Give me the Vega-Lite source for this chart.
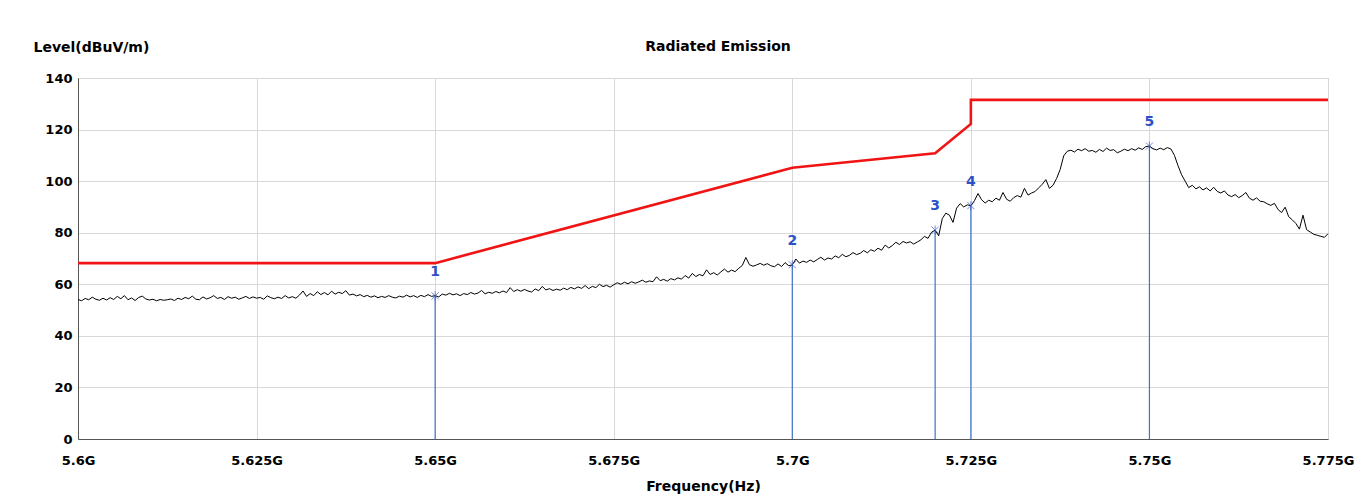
{
  "$schema": "https://vega.github.io/schema/vega-lite/v6.json",
  "width": 1250,
  "height": 361,
  "autosize": "none",
  "padding": {"left": 78, "top": 78, "right": 39, "bottom": 62},
  "background": "#ffffff",
  "title": {"text": "Radiated Emission", "font": "DejaVu Sans", "fontSize": 14, "fontWeight": "bold", "color": "#000000", "offset": -14, "dx": 15},
  "config": {
    "view": {"stroke": "#9a9a9a", "strokeWidth": 1},
    "axis": {"labelFont": "DejaVu Sans", "labelFontSize": 13, "labelFontWeight": "bold", "labelColor": "#000000", "titleFont": "DejaVu Sans", "titleFontSize": 14, "titleFontWeight": "bold", "titleColor": "#000000", "gridColor": "#d8d8d8", "gridWidth": 1, "domainColor": "#555555", "ticks": false}
  },
  "datasets": {
    "trace": [
{"f":5.6000,"v":54.1},{"f":5.6005,"v":53.6},{"f":5.6010,"v":54.5},{"f":5.6015,"v":54.0},{"f":5.6020,"v":55.0},{"f":5.6025,"v":54.2},{"f":5.6030,"v":53.8},{"f":5.6035,"v":54.6},{"f":5.6040,"v":53.9},{"f":5.6045,"v":54.8},
{"f":5.6050,"v":54.1},{"f":5.6055,"v":55.3},{"f":5.6060,"v":54.4},{"f":5.6065,"v":55.6},{"f":5.6070,"v":54.0},{"f":5.6075,"v":54.7},{"f":5.6080,"v":53.7},{"f":5.6085,"v":54.9},{"f":5.6090,"v":55.4},{"f":5.6095,"v":54.3},
{"f":5.6100,"v":53.9},{"f":5.6105,"v":54.2},{"f":5.6110,"v":53.6},{"f":5.6115,"v":54.1},{"f":5.6120,"v":53.8},{"f":5.6125,"v":54.0},{"f":5.6130,"v":54.3},{"f":5.6135,"v":53.7},{"f":5.6140,"v":54.6},{"f":5.6145,"v":54.1},
{"f":5.6150,"v":54.9},{"f":5.6155,"v":54.4},{"f":5.6160,"v":55.4},{"f":5.6165,"v":54.2},{"f":5.6170,"v":54.0},{"f":5.6175,"v":55.1},{"f":5.6180,"v":54.3},{"f":5.6185,"v":54.8},{"f":5.6190,"v":55.6},{"f":5.6195,"v":54.5},
{"f":5.6200,"v":54.9},{"f":5.6205,"v":54.1},{"f":5.6210,"v":55.2},{"f":5.6215,"v":54.6},{"f":5.6220,"v":55.0},{"f":5.6225,"v":54.2},{"f":5.6230,"v":54.7},{"f":5.6235,"v":55.3},{"f":5.6240,"v":54.5},{"f":5.6245,"v":55.1},
{"f":5.6250,"v":54.6},{"f":5.6255,"v":54.9},{"f":5.6260,"v":54.2},{"f":5.6265,"v":55.5},{"f":5.6270,"v":54.8},{"f":5.6275,"v":54.4},{"f":5.6280,"v":55.0},{"f":5.6285,"v":54.5},{"f":5.6290,"v":55.6},{"f":5.6295,"v":54.7},
{"f":5.6300,"v":55.2},{"f":5.6305,"v":54.6},{"f":5.6310,"v":55.8},{"f":5.6315,"v":57.4},{"f":5.6320,"v":55.3},{"f":5.6325,"v":56.4},{"f":5.6330,"v":55.6},{"f":5.6335,"v":57.1},{"f":5.6340,"v":56.0},{"f":5.6345,"v":56.8},
{"f":5.6350,"v":55.9},{"f":5.6355,"v":57.3},{"f":5.6360,"v":56.2},{"f":5.6365,"v":56.9},{"f":5.6370,"v":56.4},{"f":5.6375,"v":57.5},{"f":5.6380,"v":55.8},{"f":5.6385,"v":56.2},{"f":5.6390,"v":55.5},{"f":5.6395,"v":56.0},
{"f":5.6400,"v":55.2},{"f":5.6405,"v":55.7},{"f":5.6410,"v":55.0},{"f":5.6415,"v":55.5},{"f":5.6420,"v":54.8},{"f":5.6425,"v":55.3},{"f":5.6430,"v":54.9},{"f":5.6435,"v":55.6},{"f":5.6440,"v":55.0},{"f":5.6445,"v":54.7},
{"f":5.6450,"v":55.4},{"f":5.6455,"v":55.0},{"f":5.6460,"v":55.8},{"f":5.6465,"v":55.1},{"f":5.6470,"v":55.6},{"f":5.6475,"v":54.9},{"f":5.6480,"v":55.7},{"f":5.6485,"v":55.2},{"f":5.6490,"v":56.0},{"f":5.6495,"v":55.3},
{"f":5.6500,"v":55.6},{"f":5.6505,"v":55.1},{"f":5.6510,"v":56.2},{"f":5.6515,"v":55.8},{"f":5.6520,"v":56.5},{"f":5.6525,"v":55.9},{"f":5.6530,"v":56.3},{"f":5.6535,"v":55.6},{"f":5.6540,"v":56.4},{"f":5.6545,"v":56.0},
{"f":5.6550,"v":56.8},{"f":5.6555,"v":56.2},{"f":5.6560,"v":56.6},{"f":5.6565,"v":57.6},{"f":5.6570,"v":56.3},{"f":5.6575,"v":56.9},{"f":5.6580,"v":56.5},{"f":5.6585,"v":57.2},{"f":5.6590,"v":56.7},{"f":5.6595,"v":57.4},
{"f":5.6600,"v":56.8},{"f":5.6605,"v":58.7},{"f":5.6610,"v":57.2},{"f":5.6615,"v":57.9},{"f":5.6620,"v":57.3},{"f":5.6625,"v":58.0},{"f":5.6630,"v":57.4},{"f":5.6635,"v":57.0},{"f":5.6640,"v":58.2},{"f":5.6645,"v":57.5},
{"f":5.6650,"v":59.2},{"f":5.6655,"v":57.8},{"f":5.6660,"v":58.3},{"f":5.6665,"v":57.6},{"f":5.6670,"v":58.1},{"f":5.6675,"v":57.7},{"f":5.6680,"v":58.5},{"f":5.6685,"v":57.9},{"f":5.6690,"v":58.8},{"f":5.6695,"v":58.2},
{"f":5.6700,"v":59.0},{"f":5.6705,"v":58.4},{"f":5.6710,"v":59.5},{"f":5.6715,"v":58.3},{"f":5.6720,"v":59.2},{"f":5.6725,"v":58.7},{"f":5.6730,"v":60.0},{"f":5.6735,"v":59.1},{"f":5.6740,"v":59.6},{"f":5.6745,"v":58.9},
{"f":5.6750,"v":59.8},{"f":5.6755,"v":60.6},{"f":5.6760,"v":60.0},{"f":5.6765,"v":60.8},{"f":5.6770,"v":60.2},{"f":5.6775,"v":61.0},{"f":5.6780,"v":60.4},{"f":5.6785,"v":60.9},{"f":5.6790,"v":61.6},{"f":5.6795,"v":60.8},
{"f":5.6800,"v":61.3},{"f":5.6805,"v":61.0},{"f":5.6810,"v":62.9},{"f":5.6815,"v":61.4},{"f":5.6820,"v":61.9},{"f":5.6825,"v":61.2},{"f":5.6830,"v":62.2},{"f":5.6835,"v":61.7},{"f":5.6840,"v":62.5},{"f":5.6845,"v":62.0},
{"f":5.6850,"v":63.4},{"f":5.6855,"v":62.4},{"f":5.6860,"v":64.2},{"f":5.6865,"v":63.0},{"f":5.6870,"v":63.8},{"f":5.6875,"v":63.3},{"f":5.6880,"v":65.6},{"f":5.6885,"v":63.8},{"f":5.6890,"v":64.5},{"f":5.6895,"v":63.6},
{"f":5.6900,"v":64.8},{"f":5.6905,"v":65.9},{"f":5.6910,"v":64.7},{"f":5.6915,"v":65.5},{"f":5.6920,"v":64.9},{"f":5.6925,"v":66.2},{"f":5.6930,"v":67.3},{"f":5.6935,"v":70.4},{"f":5.6940,"v":67.6},{"f":5.6945,"v":67.0},
{"f":5.6950,"v":67.5},{"f":5.6955,"v":68.1},{"f":5.6960,"v":67.4},{"f":5.6965,"v":68.0},{"f":5.6970,"v":67.2},{"f":5.6975,"v":66.8},{"f":5.6980,"v":67.9},{"f":5.6985,"v":66.9},{"f":5.6990,"v":68.4},{"f":5.6995,"v":67.2},
{"f":5.7000,"v":67.5},{"f":5.7005,"v":69.8},{"f":5.7010,"v":68.2},{"f":5.7015,"v":69.0},{"f":5.7020,"v":68.5},{"f":5.7025,"v":69.4},{"f":5.7030,"v":68.7},{"f":5.7035,"v":69.6},{"f":5.7040,"v":70.5},{"f":5.7045,"v":69.4},
{"f":5.7050,"v":70.2},{"f":5.7055,"v":69.8},{"f":5.7060,"v":71.0},{"f":5.7065,"v":70.3},{"f":5.7070,"v":71.6},{"f":5.7075,"v":70.7},{"f":5.7080,"v":71.2},{"f":5.7085,"v":72.3},{"f":5.7090,"v":71.5},{"f":5.7095,"v":72.0},
{"f":5.7100,"v":73.1},{"f":5.7105,"v":72.2},{"f":5.7110,"v":73.4},{"f":5.7115,"v":72.8},{"f":5.7120,"v":74.0},{"f":5.7125,"v":73.2},{"f":5.7130,"v":75.2},{"f":5.7135,"v":74.1},{"f":5.7140,"v":75.0},{"f":5.7145,"v":76.3},
{"f":5.7150,"v":75.4},{"f":5.7155,"v":76.6},{"f":5.7160,"v":76.0},{"f":5.7165,"v":76.5},{"f":5.7170,"v":75.6},{"f":5.7175,"v":76.4},{"f":5.7180,"v":77.2},{"f":5.7185,"v":78.6},{"f":5.7190,"v":77.8},{"f":5.7195,"v":80.2},
{"f":5.7200,"v":81.0},{"f":5.7205,"v":78.8},{"f":5.7210,"v":85.5},{"f":5.7215,"v":87.6},{"f":5.7220,"v":86.8},{"f":5.7225,"v":84.0},{"f":5.7230,"v":89.5},{"f":5.7235,"v":91.3},{"f":5.7240,"v":90.0},{"f":5.7245,"v":90.8},
{"f":5.7250,"v":90.5},{"f":5.7255,"v":92.4},{"f":5.7260,"v":95.2},{"f":5.7265,"v":92.8},{"f":5.7270,"v":91.5},{"f":5.7275,"v":92.6},{"f":5.7280,"v":92.0},{"f":5.7285,"v":93.4},{"f":5.7290,"v":92.6},{"f":5.7295,"v":95.6},
{"f":5.7300,"v":93.0},{"f":5.7305,"v":92.2},{"f":5.7310,"v":93.6},{"f":5.7315,"v":94.4},{"f":5.7320,"v":93.8},{"f":5.7325,"v":97.2},{"f":5.7330,"v":94.6},{"f":5.7335,"v":95.4},{"f":5.7340,"v":96.0},{"f":5.7345,"v":97.4},
{"f":5.7350,"v":98.8},{"f":5.7355,"v":100.6},{"f":5.7360,"v":97.2},{"f":5.7365,"v":98.4},{"f":5.7370,"v":101.0},{"f":5.7375,"v":104.5},{"f":5.7380,"v":109.8},{"f":5.7385,"v":111.6},{"f":5.7390,"v":112.0},{"f":5.7395,"v":111.3},
{"f":5.7400,"v":112.4},{"f":5.7405,"v":111.8},{"f":5.7410,"v":112.6},{"f":5.7415,"v":111.6},{"f":5.7420,"v":111.9},{"f":5.7425,"v":111.2},{"f":5.7430,"v":112.3},{"f":5.7435,"v":111.5},{"f":5.7440,"v":112.8},{"f":5.7445,"v":111.9},
{"f":5.7450,"v":112.2},{"f":5.7455,"v":111.0},{"f":5.7460,"v":111.6},{"f":5.7465,"v":112.4},{"f":5.7470,"v":111.8},{"f":5.7475,"v":112.6},{"f":5.7480,"v":112.0},{"f":5.7485,"v":112.9},{"f":5.7490,"v":112.3},{"f":5.7495,"v":113.4},
{"f":5.7500,"v":113.6},{"f":5.7505,"v":112.6},{"f":5.7510,"v":112.1},{"f":5.7515,"v":112.8},{"f":5.7520,"v":112.2},{"f":5.7525,"v":113.0},{"f":5.7530,"v":112.5},{"f":5.7535,"v":110.0},{"f":5.7540,"v":106.0},{"f":5.7545,"v":102.5},
{"f":5.7550,"v":100.0},{"f":5.7555,"v":97.5},{"f":5.7560,"v":98.4},{"f":5.7565,"v":97.0},{"f":5.7570,"v":97.8},{"f":5.7575,"v":96.6},{"f":5.7580,"v":97.4},{"f":5.7585,"v":96.2},{"f":5.7590,"v":97.6},{"f":5.7595,"v":96.0},
{"f":5.7600,"v":95.4},{"f":5.7605,"v":96.2},{"f":5.7610,"v":94.6},{"f":5.7615,"v":94.0},{"f":5.7620,"v":94.8},{"f":5.7625,"v":93.6},{"f":5.7630,"v":94.4},{"f":5.7635,"v":95.6},{"f":5.7640,"v":93.4},{"f":5.7645,"v":92.6},
{"f":5.7650,"v":93.5},{"f":5.7655,"v":92.2},{"f":5.7660,"v":92.0},{"f":5.7665,"v":91.2},{"f":5.7670,"v":90.6},{"f":5.7675,"v":91.4},{"f":5.7680,"v":89.0},{"f":5.7685,"v":87.8},{"f":5.7690,"v":89.9},{"f":5.7695,"v":86.2},
{"f":5.7700,"v":85.0},{"f":5.7705,"v":83.6},{"f":5.7710,"v":81.4},{"f":5.7715,"v":86.8},{"f":5.7720,"v":81.2},{"f":5.7725,"v":80.3},{"f":5.7730,"v":79.4},{"f":5.7735,"v":79.0},{"f":5.7740,"v":78.6},{"f":5.7745,"v":78.2},
{"f":5.7750,"v":79.6}
    ],
    "limit": [
      {"o":1,"f":5.6,"v":68.2},{"o":2,"f":5.65,"v":68.2},{"o":3,"f":5.7,"v":105.2},{"o":4,"f":5.72,"v":110.8},{"o":5,"f":5.725,"v":122.2},{"o":6,"f":5.725,"v":131.5},{"o":7,"f":5.775,"v":131.5}
    ],
    "markers": [
      {"m":"1","f":5.65,"v":55.5},{"m":"2","f":5.7,"v":67.6},{"m":"3","f":5.72,"v":81.0},{"m":"4","f":5.725,"v":90.5},{"m":"5","f":5.75,"v":113.6}
    ]
  },
  "encoding": {
    "x": {"field": "f", "type": "quantitative", "scale": {"domain": [5.6, 5.775], "nice": false, "zero": false},
      "axis": {"values": [5.6, 5.625, 5.65, 5.675, 5.7, 5.725, 5.75, 5.775], "labelExpr": "format(datum.value, '.4~f') + 'G'", "title": "Frequency(Hz)", "labelPadding": 15, "titlePadding": 12, "labelFlush": false}},
    "y": {"field": "v", "type": "quantitative", "scale": {"domain": [0, 140], "nice": false},
      "axis": {"values": [0, 20, 40, 60, 80, 100, 120, 140], "title": "Level(dBuV/m)", "titleAngle": 0, "titleAlign": "left", "titleBaseline": "middle", "titleX": -45, "titleY": -31, "labelPadding": 6}}
  },
  "layer": [
    {"data": {"name": "markers"}, "mark": {"type": "rule", "color": "#3c74c8", "strokeWidth": 1.2}, "encoding": {"y2": {"datum": 0}}},
    {"data": {"name": "limit"}, "mark": {"type": "line", "color": "#f01414", "strokeWidth": 2.6}, "encoding": {"order": {"field": "o"}}},
    {"data": {"name": "trace"}, "mark": {"type": "line", "color": "#000000", "strokeWidth": 1}},
    {"data": {"name": "markers"}, "mark": {"type": "point", "shape": "M-1,-1L1,1M-1,1L1,-1M0,-1.3L0,1.3", "size": 50, "color": "#3c5cc8", "strokeWidth": 1, "filled": false}},
    {"data": {"name": "markers"}, "mark": {"type": "text", "color": "#2c50c8", "font": "DejaVu Sans", "fontSize": 14, "fontWeight": "bold", "dy": -24, "baseline": "middle"}, "encoding": {"text": {"field": "m"}}}
  ]
}
